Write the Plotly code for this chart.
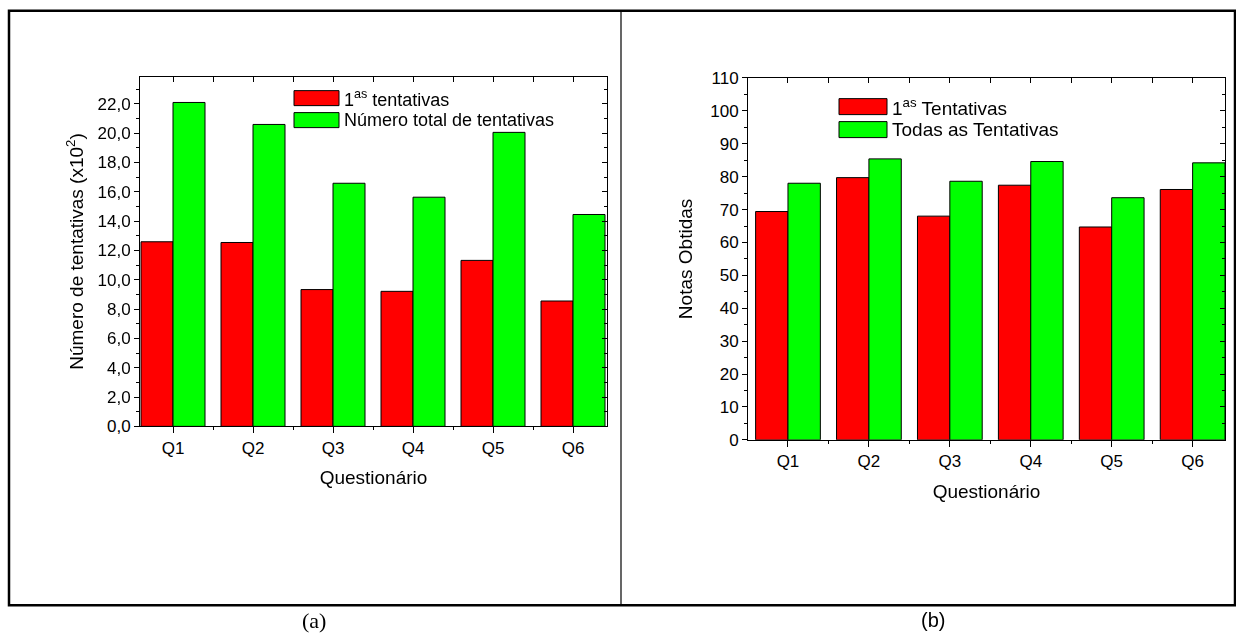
import plotly.graph_objects as go
import numpy as np

W, H = 1236, 639

# ---------------- data ----------------
categories = ["Q1", "Q2", "Q3", "Q4", "Q5", "Q6"]
# (a) number of attempts (x10^2)
first_attempts = [12.59, 12.54, 9.33, 9.21, 11.32, 8.55]
total_attempts = [22.09, 20.59, 16.58, 15.63, 20.05, 14.45]
# (b) grades obtained
grades_first = [69.4, 79.7, 68.0, 77.4, 64.7, 76.1]
grades_all = [78.0, 85.4, 78.6, 84.6, 73.6, 84.2]

legend_a = ["1<sup>as</sup> tentativas", "Número total de tentativas"]
legend_b = ["1<sup>as</sup> Tentativas", "Todas as Tentativas"]

RED = "#FF0000"
GREEN = "#00FF00"
FONT = "Liberation Sans, Arial, sans-serif"

xpos = np.arange(1, len(categories) + 1)
minor_x = np.arange(0.5, len(categories) + 1, 1.0)

# vertical calibration of the capture (observed: img_y = 0.971 * page_y + 8.3)
V_SCALE, V_OFF = 0.971, 8.3


def px(x):
    return x / W


def py(y):
    return 1 - ((y - V_OFF) / V_SCALE) / H


fig = go.Figure()

bar_line = dict(color="black", width=1)

# left panel
fig.add_trace(go.Bar(x=xpos, y=first_attempts, marker=dict(color=RED, line=bar_line),
                     xaxis="x", yaxis="y", showlegend=False, name=legend_a[0]))
fig.add_trace(go.Bar(x=xpos, y=total_attempts, marker=dict(color=GREEN, line=bar_line),
                     xaxis="x", yaxis="y", showlegend=False, name=legend_a[1]))
# right panel
fig.add_trace(go.Bar(x=xpos, y=grades_first, marker=dict(color=RED, line=bar_line),
                     xaxis="x2", yaxis="y2", showlegend=False, name=legend_b[0]))
fig.add_trace(go.Bar(x=xpos, y=grades_all, marker=dict(color=GREEN, line=bar_line),
                     xaxis="x2", yaxis="y2", showlegend=False, name=legend_b[1]))

# invisible traces so mirrored (inside-tick) axes are drawn
fig.add_trace(go.Scatter(x=xpos, y=total_attempts, xaxis="x3", yaxis="y3", mode="markers",
                         opacity=0, hoverinfo="skip", showlegend=False))
fig.add_trace(go.Scatter(x=xpos, y=grades_all, xaxis="x4", yaxis="y4", mode="markers",
                         opacity=0, hoverinfo="skip", showlegend=False))

tickfont = dict(family=FONT, size=17, color="black")
titlefont = dict(family=FONT, size=19, color="black")

dom_a_x = [px(140), px(607)]
dom_a_y = [py(426), py(76)]
dom_b_x = [px(748), px(1225)]
dom_b_y = [py(439.5), py(77.3)]

range_a_x = [0.5875, 6.425]
range_b_x = [0.506, 6.4]
range_a_y = [0, 23.85]
range_b_y = [0, 110]

common_axis = dict(showline=True, linecolor="black", linewidth=1, showgrid=False,
                   zeroline=False, tickcolor="black", tickwidth=1, tickfont=tickfont)

layout = dict(
    width=W, height=H,
    margin=dict(l=0, r=0, t=0, b=0),
    paper_bgcolor="white", plot_bgcolor="white",
    barmode="group", bargap=0.2, bargroupgap=0,
    separators=",.",
    showlegend=False,
    font=dict(family=FONT, color="black"),
)

# ----- panel (a)
layout["xaxis"] = dict(common_axis, domain=dom_a_x, anchor="y", range=range_a_x,
                       tickmode="array", tickvals=list(xpos), ticktext=categories,
                       ticks="outside", ticklen=6,
                       minor=dict(tickvals=list(minor_x), ticks="outside", ticklen=3, tickcolor="black"),
                       title=dict(text="Questionário", font=titlefont, standoff=13))
layout["yaxis"] = dict(common_axis, domain=dom_a_y, anchor="x", range=range_a_y,
                       tickmode="linear", tick0=0, dtick=2, tickformat=".1f",
                       ticks="outside", ticklen=5,
                       minor=dict(dtick=1, ticks="outside", ticklen=3, tickcolor="black"),
                       title=dict(text="Número de tentativas (x10<sup>2</sup>)", font=titlefont, standoff=8))
layout["xaxis3"] = dict(common_axis, overlaying="x", side="top", anchor="y3", range=range_a_x,
                        tickmode="array", tickvals=list(xpos), showticklabels=False,
                        ticks="inside", ticklen=5,
                        minor=dict(tickvals=list(minor_x), ticks="inside", ticklen=5, tickcolor="black"))
layout["yaxis3"] = dict(common_axis, overlaying="y", side="right", anchor="x3", range=range_a_y,
                        tickmode="linear", tick0=0, dtick=2, showticklabels=False,
                        ticks="inside", ticklen=5,
                        minor=dict(dtick=1, ticks="inside", ticklen=3, tickcolor="black"))

# ----- panel (b)
layout["xaxis2"] = dict(common_axis, domain=dom_b_x, anchor="y2", range=range_b_x,
                        tickmode="array", tickvals=list(xpos), ticktext=categories,
                        ticks="outside", ticklen=6,
                        minor=dict(tickvals=list(minor_x), ticks="outside", ticklen=3, tickcolor="black"),
                        title=dict(text="Questionário", font=titlefont, standoff=14))
layout["yaxis2"] = dict(common_axis, domain=dom_b_y, anchor="x2", range=range_b_y,
                        tickmode="linear", tick0=0, dtick=10,
                        ticks="outside", ticklen=5,
                        minor=dict(dtick=5, ticks="outside", ticklen=3, tickcolor="black"),
                        title=dict(text="Notas Obtidas", font=titlefont, standoff=12))
layout["xaxis4"] = dict(common_axis, overlaying="x2", side="top", anchor="y4", range=range_b_x,
                        tickmode="array", tickvals=list(xpos), showticklabels=False,
                        ticks="inside", ticklen=5,
                        minor=dict(tickvals=list(minor_x), ticks="inside", ticklen=5, tickcolor="black"))
layout["yaxis4"] = dict(common_axis, overlaying="y2", side="right", anchor="x4", range=range_b_y,
                        tickmode="linear", tick0=0, dtick=10, showticklabels=False,
                        ticks="inside", ticklen=5,
                        minor=dict(dtick=5, ticks="inside", ticklen=3, tickcolor="black"))

fig.update_layout(**layout)

shapes = []
annotations = []

# outer frame and divider
shapes.append(dict(type="rect", xref="paper", yref="paper",
                   x0=px(9), x1=px(1235), y0=py(605), y1=py(10),
                   line=dict(color="black", width=2.5), fillcolor="rgba(0,0,0,0)"))
shapes.append(dict(type="line", xref="paper", yref="paper",
                   x0=px(621), x1=px(621), y0=py(605), y1=py(10),
                   line=dict(color="black", width=1.2)))


def legend_entry(x0, x1, y0, y1, color, text, tx, size):
    shapes.append(dict(type="rect", xref="paper", yref="paper",
                       x0=px(x0), x1=px(x1), y0=py(y1), y1=py(y0),
                       fillcolor=color, line=dict(color="black", width=1)))
    annotations.append(dict(xref="paper", yref="paper", x=px(tx), y=py((y0 + y1) / 2),
                            xanchor="left", yanchor="middle", showarrow=False,
                            text=text, font=dict(family=FONT, size=size, color="black")))


# legend (a)
legend_entry(294, 339, 90, 105, RED, legend_a[0], 342, 18)
legend_entry(294, 339, 112, 127, GREEN, legend_a[1], 342, 18)
# legend (b)
legend_entry(839, 887, 98, 114, RED, legend_b[0], 890, 19)
legend_entry(839, 887, 121, 137, GREEN, legend_b[1], 890, 19)

# captions
annotations.append(dict(xref="paper", yref="paper", x=px(314), y=py(620), xanchor="center",
                        yanchor="middle", showarrow=False, text="(a)",
                        font=dict(family="Liberation Serif, Times New Roman, serif", size=22, color="black")))
annotations.append(dict(xref="paper", yref="paper", x=px(933), y=py(620), xanchor="center",
                        yanchor="middle", showarrow=False, text="(b)",
                        font=dict(family=FONT, size=20, color="black")))

fig.update_layout(shapes=shapes, annotations=annotations)

fig.write_html("out.html", config={"displayModeBar": False},
               post_script="document.body.style.margin='0';document.body.style.overflow='hidden';")
